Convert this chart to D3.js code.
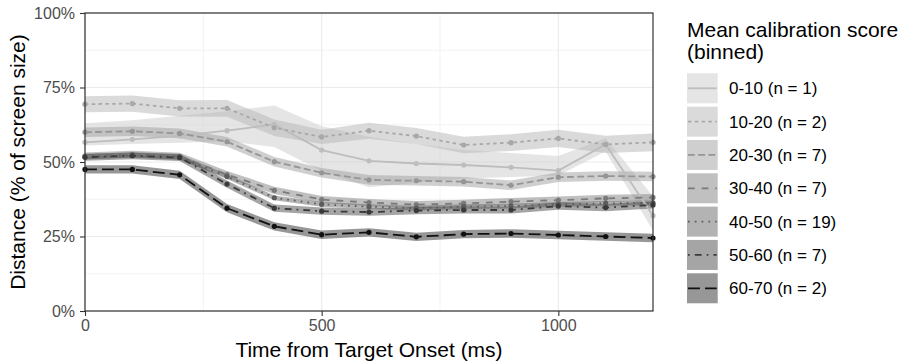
<!DOCTYPE html>
<html><head><meta charset="utf-8">
<script src="https://cdn.jsdelivr.net/npm/d3@7"></script>
<style>body{margin:0;background:#fff}svg{display:block}text{font-family:"Liberation Sans",Arial,sans-serif}</style>
</head><body>
<svg id="c" width="906" height="364"></svg>
<script>
const times = [0,100,200,300,400,500,600,700,800,900,1000,1100,1200];
const groups = ["0-10 (n = 1)","10-20 (n = 2)","20-30 (n = 7)","30-40 (n = 7)","40-50 (n = 19)","50-60 (n = 7)","60-70 (n = 2)"];
const xTicks = [0,500,1000];
const yTicks = [0,25,50,75,100];

const mean_0_10  = [56.6,57.6,58.8,60.5,62.6,54.0,50.4,49.5,49.0,48.2,47.1,55.9,32.0];
const lo_0_10    = [55.5,56.0,56.5,57.0,55.0,47.0,41.5,43.0,44.5,45.0,45.5,53.5,27.0];
const hi_0_10    = [63.0,64.0,65.5,67.0,69.0,62.0,58.5,56.0,54.0,53.0,52.0,58.0,38.5];

const mean_10_20 = [69.4,69.6,68.0,68.0,61.5,58.4,60.5,58.7,55.7,56.5,57.9,55.9,56.6];
const lo_10_20   = [66.7,66.9,65.3,65.2,58.7,56.0,57.8,56.0,52.9,53.7,55.0,53.0,53.6];
const hi_10_20   = [72.1,72.3,70.7,70.8,64.3,60.8,63.2,61.4,58.5,59.3,60.8,58.8,59.6];

const mean_20_30 = [60.0,60.3,59.6,56.8,50.1,46.4,44.0,43.7,43.4,42.2,44.9,45.3,45.1];
const lo_20_30   = [58.4,58.7,58.0,55.2,48.5,44.8,42.4,42.1,41.8,40.6,43.3,43.7,43.5];
const hi_20_30   = [61.6,61.9,61.2,58.4,51.7,48.0,45.6,45.3,45.0,43.8,46.5,46.9,46.7];

const mean_30_40 = [52.0,52.6,51.9,45.8,40.5,37.4,36.4,35.7,36.1,36.7,37.2,37.8,38.1];
const lo_30_40   = [50.8,51.4,50.7,44.6,39.3,36.2,35.2,34.5,34.9,35.5,36.0,36.6,36.9];
const hi_30_40   = [53.2,53.8,53.1,47.0,41.7,38.6,37.6,36.9,37.3,37.9,38.4,39.0,39.3];

const mean_40_50 = [51.8,52.3,51.7,45.1,38.0,35.8,35.0,34.5,35.0,35.2,35.8,36.1,36.3];
const lo_40_50   = [51.0,51.5,50.9,44.3,37.2,35.0,34.2,33.7,34.2,34.4,35.0,35.3,35.5];
const hi_40_50   = [52.6,53.1,52.5,45.9,38.8,36.6,35.8,35.3,35.8,36.0,36.6,36.9,37.1];

const mean_50_60 = [51.6,52.1,51.5,42.6,34.5,33.5,33.2,33.7,33.9,33.9,35.2,34.7,35.6];
const lo_50_60   = [50.4,50.9,50.3,41.4,33.3,32.3,32.0,32.5,32.7,32.7,34.0,33.5,34.4];
const hi_50_60   = [52.8,53.3,52.7,43.8,35.7,34.7,34.4,34.9,35.1,35.1,36.4,35.9,36.8];

const mean_60_70 = [47.5,47.5,45.7,34.5,28.4,25.6,26.4,24.9,25.8,26.0,25.5,25.0,24.5];
const lo_60_70   = [46.1,46.1,44.3,33.1,27.0,24.2,25.0,23.5,24.4,24.6,24.1,23.6,23.1];
const hi_60_70   = [48.9,48.9,47.1,35.9,29.8,27.0,27.8,26.3,27.2,27.4,26.9,26.4,25.9];

const means = [mean_0_10,mean_10_20,mean_20_30,mean_30_40,mean_40_50,mean_50_60,mean_60_70];
const lows  = [lo_0_10,lo_10_20,lo_20_30,lo_30_40,lo_40_50,lo_50_60,lo_60_70];
const highs = [hi_0_10,hi_10_20,hi_20_30,hi_30_40,hi_40_50,hi_50_60,hi_60_70];

const fillCols = ["#cccccc","#b5b5b5","#9f9f9f","#818181","#676767","#4b4b4b","#2f2f2f"];
const lineCols = ["#bdbdbd","#a8a8a8","#959595","#7a7a7a","#5c5c5c","#3a3a3a","#111111"];
const u = 1.7;
const dashes = [null,[2,2],[4,2],[4,4],[1,3],[1,3,4,3],[7,3]];

const svg = d3.select("#c");
const P = {l:85,r:653,t:13,b:311};
const x = d3.scaleLinear().domain([0,1200]).range([P.l,P.r]);
const y = d3.scaleLinear().domain([0,100]).range([P.b,P.t]);

// grid
const g = svg.append("g");
[250,750].forEach(v=>g.append("line").attr("x1",x(v)).attr("x2",x(v)).attr("y1",P.t).attr("y2",P.b).attr("stroke","#ebebeb").attr("stroke-width",0.6));
[12.5,37.5,62.5,87.5].forEach(v=>g.append("line").attr("x1",P.l).attr("x2",P.r).attr("y1",y(v)).attr("y2",y(v)).attr("stroke","#ebebeb").attr("stroke-width",0.6));
xTicks.forEach(v=>g.append("line").attr("x1",x(v)).attr("x2",x(v)).attr("y1",P.t).attr("y2",P.b).attr("stroke","#ebebeb").attr("stroke-width",1.2));
yTicks.forEach(v=>g.append("line").attr("x1",P.l).attr("x2",P.r).attr("y1",y(v)).attr("y2",y(v)).attr("stroke","#ebebeb").attr("stroke-width",1.2));

const dash = d => d ? d.map((v,i)=> i%2===0 ? v*u : v*u).join(",") : null;

// ribbons
const area = d3.area().x((d,i)=>x(times[i])).y0(d=>y(d[0])).y1(d=>y(d[1]));
groups.forEach((gname,k)=>{
  const data = times.map((t,i)=>[lows[k][i],highs[k][i]]);
  svg.append("path").attr("d",area(data)).attr("fill",fillCols[k]).attr("fill-opacity",0.5);
});
// lines
const line = d3.line().x((d,i)=>x(times[i])).y(d=>y(d));
groups.forEach((gname,k)=>{
  svg.append("path").attr("d",line(means[k])).attr("fill","none").attr("stroke",lineCols[k])
    .attr("stroke-width",1.8).attr("stroke-linecap","butt").attr("stroke-dasharray",dash(dashes[k]));
});
// points
groups.forEach((gname,k)=>{
  svg.append("g").selectAll("circle").data(means[k]).join("circle")
    .attr("cx",(d,i)=>x(times[i])).attr("cy",d=>y(d)).attr("r",2.6).attr("fill",lineCols[k]);
});

// border
svg.append("rect").attr("x",P.l).attr("y",P.t).attr("width",P.r-P.l).attr("height",P.b-P.t)
  .attr("fill","none").attr("stroke","#333").attr("stroke-width",1.2);

// axes
const xa = svg.append("g").attr("transform",`translate(0,${P.b})`)
  .call(d3.axisBottom(x).tickValues(xTicks).tickSize(5).tickPadding(4).tickFormat(d3.format("d")));
const ya = svg.append("g").attr("transform",`translate(${P.l},0)`)
  .call(d3.axisLeft(y).tickValues(yTicks).tickSize(5).tickPadding(5).tickFormat(d=>d+"%"));
[xa,ya].forEach(a=>{
  a.select(".domain").remove();
  a.selectAll(".tick line").attr("stroke","#333").attr("stroke-width",1.1);
  a.selectAll(".tick text").attr("fill","#4d4d4d").style("font-size","16px").style("font-family","Liberation Sans, Arial, sans-serif");
});

svg.append("text").attr("x",(P.l+P.r)/2).attr("y",357).attr("text-anchor","middle")
  .style("font-size","21px").attr("fill","#000").text("Time from Target Onset (ms)");
svg.append("text").attr("transform",`translate(25,${(P.t+P.b)/2}) rotate(-90)`).attr("text-anchor","middle")
  .style("font-size","21px").attr("fill","#000").text("Distance (% of screen size)");

// legend
const L = {x:687, y:73.3, w:30.7, h:30, step:33.33};
svg.append("text").attr("x",L.x).attr("y",37).style("font-size","21px").text("Mean calibration score");
svg.append("text").attr("x",L.x).attr("y",59).style("font-size","21px").text("(binned)");
groups.forEach((gname,k)=>{
  const yy = L.y + k*L.step;
  svg.append("rect").attr("x",L.x).attr("y",yy).attr("width",L.w).attr("height",L.h)
    .attr("fill",fillCols[k]).attr("fill-opacity",0.5);
  svg.append("line").attr("x1",L.x+1).attr("x2",L.x+L.w-1).attr("y1",yy+L.h/2).attr("y2",yy+L.h/2)
    .attr("stroke",lineCols[k]).attr("stroke-width",1.8).attr("stroke-dasharray",dash(dashes[k]));
  svg.append("text").attr("x",729).attr("y",yy+L.h/2+6).style("font-size","17px").attr("fill","#000").text(gname);
});
</script>
</body></html>
